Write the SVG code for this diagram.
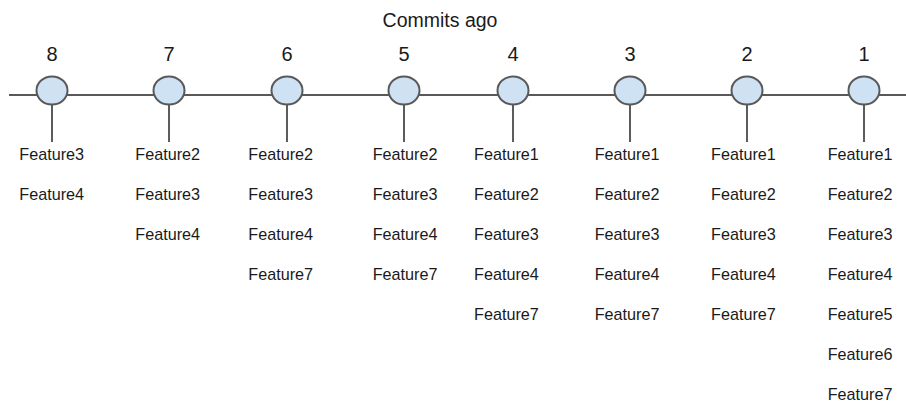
<svg xmlns="http://www.w3.org/2000/svg" width="906" height="405" viewBox="0 0 906 405">
  <style>
    .axis { stroke: #595959; stroke-width: 2; fill: none; }
    .stem { stroke: #262626; stroke-width: 1.5; fill: none; }
    .commit { fill: #cfe2f3; stroke: #595959; stroke-width: 2; }
    .num { font-family: "Liberation Sans", Arial, sans-serif; font-size: 20px; fill: #1a1a1a; text-anchor: middle; }
    .title { font-family: "Liberation Sans", Arial, sans-serif; font-size: 19.5px; fill: #1a1a1a; text-anchor: middle; }
    .feat { font-family: "Liberation Sans", Arial, sans-serif; font-size: 16.2px; fill: #1a1a1a; }
  </style>
  <rect width="906" height="405" fill="#ffffff"/>

  <text class="title" x="440" y="27">Commits ago</text>

  <g id="connectors">
    <line class="axis" x1="9" y1="95" x2="906" y2="95"/>
    <line class="stem" x1="52" y1="104" x2="52" y2="142"/>
    <line class="stem" x1="169" y1="104" x2="169" y2="142"/>
    <line class="stem" x1="287" y1="104" x2="287" y2="142"/>
    <line class="stem" x1="404" y1="104" x2="404" y2="142"/>
    <line class="stem" x1="513" y1="104" x2="513" y2="142"/>
    <line class="stem" x1="630" y1="104" x2="630" y2="142"/>
    <line class="stem" x1="747" y1="104" x2="747" y2="142"/>
    <line class="stem" x1="864" y1="104" x2="864" y2="142"/>
  </g>

  <g id="commit8">
    <text class="num" x="52" y="61">8</text>
    <ellipse class="commit" cx="52" cy="90.5" rx="15.5" ry="14"/>
    <text class="feat" x="19.3" y="160">Feature3</text>
    <text class="feat" x="19.3" y="200">Feature4</text>
  </g>

  <g id="commit7">
    <text class="num" x="169" y="61">7</text>
    <ellipse class="commit" cx="169" cy="90.5" rx="15.5" ry="14"/>
    <text class="feat" x="135.3" y="160">Feature2</text>
    <text class="feat" x="135.3" y="200">Feature3</text>
    <text class="feat" x="135.3" y="240">Feature4</text>
  </g>

  <g id="commit6">
    <text class="num" x="287" y="61">6</text>
    <ellipse class="commit" cx="287" cy="90.5" rx="15.5" ry="14"/>
    <text class="feat" x="248.3" y="160">Feature2</text>
    <text class="feat" x="248.3" y="200">Feature3</text>
    <text class="feat" x="248.3" y="240">Feature4</text>
    <text class="feat" x="248.3" y="280">Feature7</text>
  </g>

  <g id="commit5">
    <text class="num" x="404" y="61">5</text>
    <ellipse class="commit" cx="404" cy="90.5" rx="15.5" ry="14"/>
    <text class="feat" x="372.7" y="160">Feature2</text>
    <text class="feat" x="372.7" y="200">Feature3</text>
    <text class="feat" x="372.7" y="240">Feature4</text>
    <text class="feat" x="372.7" y="280">Feature7</text>
  </g>

  <g id="commit4">
    <text class="num" x="513" y="61">4</text>
    <ellipse class="commit" cx="513" cy="90.5" rx="15.5" ry="14"/>
    <text class="feat" x="474" y="160">Feature1</text>
    <text class="feat" x="474" y="200">Feature2</text>
    <text class="feat" x="474" y="240">Feature3</text>
    <text class="feat" x="474" y="280">Feature4</text>
    <text class="feat" x="474" y="320">Feature7</text>
  </g>

  <g id="commit3">
    <text class="num" x="630" y="61">3</text>
    <ellipse class="commit" cx="630" cy="90.5" rx="15.5" ry="14"/>
    <text class="feat" x="594.7" y="160">Feature1</text>
    <text class="feat" x="594.7" y="200">Feature2</text>
    <text class="feat" x="594.7" y="240">Feature3</text>
    <text class="feat" x="594.7" y="280">Feature4</text>
    <text class="feat" x="594.7" y="320">Feature7</text>
  </g>

  <g id="commit2">
    <text class="num" x="747" y="61">2</text>
    <ellipse class="commit" cx="747" cy="90.5" rx="15.5" ry="14"/>
    <text class="feat" x="711" y="160">Feature1</text>
    <text class="feat" x="711" y="200">Feature2</text>
    <text class="feat" x="711" y="240">Feature3</text>
    <text class="feat" x="711" y="280">Feature4</text>
    <text class="feat" x="711" y="320">Feature7</text>
  </g>

  <g id="commit1">
    <text class="num" x="864" y="61">1</text>
    <ellipse class="commit" cx="864" cy="90.5" rx="15.5" ry="14"/>
    <text class="feat" x="827.7" y="160">Feature1</text>
    <text class="feat" x="827.7" y="200">Feature2</text>
    <text class="feat" x="827.7" y="240">Feature3</text>
    <text class="feat" x="827.7" y="280">Feature4</text>
    <text class="feat" x="827.7" y="320">Feature5</text>
    <text class="feat" x="827.7" y="360">Feature6</text>
    <text class="feat" x="827.7" y="400">Feature7</text>
  </g>
</svg>
